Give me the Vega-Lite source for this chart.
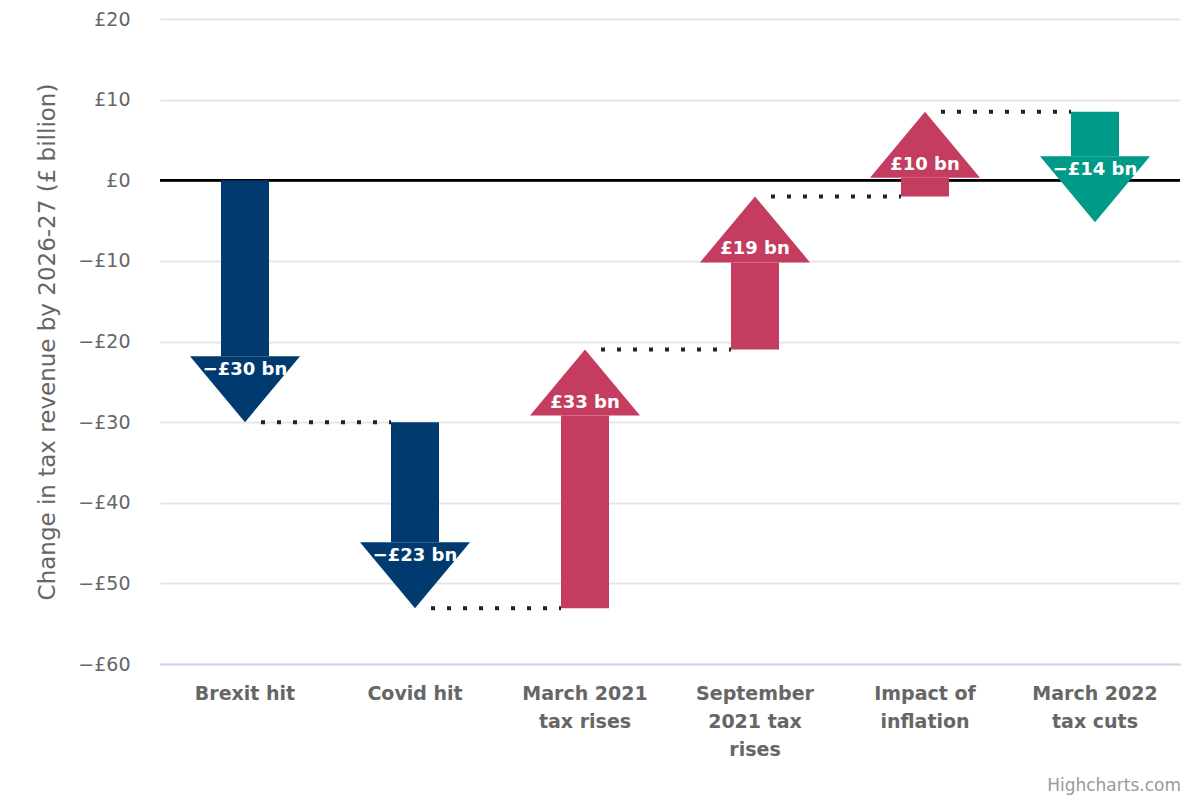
{
  "$schema": "https://vega.github.io/schema/vega-lite/v6.json",
  "width": 1020,
  "height": 645,
  "autosize": {"type": "none"},
  "padding": {"left": 160, "top": 19, "right": 20, "bottom": 136},
  "background": "white",
  "config": {
    "view": {"stroke": null},
    "font": "DejaVu Sans"
  },
  "title": {
    "text": "Highcharts.com",
    "orient": "bottom",
    "anchor": "end",
    "fontSize": 17,
    "fontWeight": "normal",
    "color": "#999999",
    "font": "DejaVu Sans",
    "offset": 19
  },
  "data": {
    "values": [
      {"cat": "Brexit hit", "start": 0, "end": -30, "label": "−£30 bn", "kind": "hit", "dir": "down", "next": "Covid hit"},
      {"cat": "Covid hit", "start": -30, "end": -53.1, "label": "−£23 bn", "kind": "hit", "dir": "down", "next": "March 2021 tax rises"},
      {"cat": "March 2021 tax rises", "start": -53.1, "end": -21, "label": "£33 bn", "kind": "rise", "dir": "up", "next": "September 2021 tax rises"},
      {"cat": "September 2021 tax rises", "start": -21, "end": -2, "label": "£19 bn", "kind": "rise", "dir": "up", "next": "Impact of inflation"},
      {"cat": "Impact of inflation", "start": -2, "end": 8.5, "label": "£10 bn", "kind": "rise", "dir": "up", "next": "March 2022 tax cuts"},
      {"cat": "March 2022 tax cuts", "start": 8.5, "end": -5.2, "label": "−£14 bn", "kind": "cut", "dir": "down", "next": null}
    ]
  },
  "encoding": {
    "x": {
      "field": "cat",
      "type": "nominal",
      "sort": null,
      "scale": {
        "domain": ["Brexit hit", "Covid hit", "March 2021 tax rises", "September 2021 tax rises", "Impact of inflation", "March 2022 tax cuts"],
        "paddingInner": 0,
        "paddingOuter": 0
      },
      "axis": {
        "title": null,
        "labelAngle": 0,
        "ticks": false,
        "domainColor": "#ccd6eb",
        "domainWidth": 2,
        "labelFontSize": 19,
        "labelFontWeight": "bold",
        "labelColor": "#666666",
        "labelLineHeight": 28,
        "labelPadding": 20,
        "labelLimit": 0,
        "labelExpr": "datum.value == 'March 2021 tax rises' ? ['March 2021','tax rises'] : datum.value == 'September 2021 tax rises' ? ['September','2021 tax','rises'] : datum.value == 'Impact of inflation' ? ['Impact of','inflation'] : datum.value == 'March 2022 tax cuts' ? ['March 2022','tax cuts'] : datum.label"
      }
    }
  },
  "layer": [
    {
      "mark": {"type": "rule", "color": "#000000", "strokeWidth": 2},
      "encoding": {
        "x": null,
        "y": {
          "datum": 0,
          "type": "quantitative",
          "scale": {"domain": [-60, 20], "nice": false, "zero": false},
          "axis": {
            "title": "Change in tax revenue by 2026-27 (£ billion)",
            "titleFontSize": 23,
            "titleFontWeight": "normal",
            "titleColor": "#666666",
            "titlePadding": 18,
            "values": [-60, -50, -40, -30, -20, -10, 0, 10, 20],
            "labelExpr": "datum.value < 0 ? '−£' + abs(datum.value) : '£' + datum.value",
            "labelFontSize": 19,
            "labelColor": "#666666",
            "labelPadding": 30,
            "ticks": false,
            "domain": false,
            "grid": true,
            "gridColor": "#e6e6e6",
            "gridWidth": 2
          }
        }
      }
    },
    {
      "transform": [{"filter": "datum.next != null"}],
      "mark": {"type": "rule", "color": "#222222", "strokeWidth": 4, "strokeDash": [4, 12], "xOffset": 16, "x2Offset": -24},
      "encoding": {
        "x": {"field": "cat", "type": "nominal", "bandPosition": 0.5},
        "x2": {"field": "next"},
        "y": {"field": "end", "type": "quantitative"}
      }
    },
    {
      "transform": [{"filter": "datum.dir == 'down'"}],
      "mark": {"type": "bar", "width": 48, "y2Offset": -66},
      "encoding": {
        "y": {"field": "start", "type": "quantitative"},
        "y2": {"field": "end"},
        "color": {"field": "kind", "type": "nominal", "scale": {"domain": ["hit", "rise", "cut"], "range": ["#003a6e", "#c43c5f", "#009a88"]}, "legend": null}
      }
    },
    {
      "transform": [{"filter": "datum.dir == 'up'"}],
      "mark": {"type": "bar", "width": 48, "y2Offset": 66},
      "encoding": {
        "y": {"field": "start", "type": "quantitative"},
        "y2": {"field": "end"},
        "color": {"field": "kind", "type": "nominal", "legend": null}
      }
    },
    {
      "transform": [{"filter": "datum.dir == 'down'"}],
      "mark": {"type": "point", "filled": true, "opacity": 1, "strokeWidth": 0, "shape": "M -1 -1.2 L 1 -1.2 L 0 0 Z", "size": 12100},
      "encoding": {
        "y": {"field": "end", "type": "quantitative"},
        "color": {"field": "kind", "type": "nominal", "legend": null}
      }
    },
    {
      "transform": [{"filter": "datum.dir == 'up'"}],
      "mark": {"type": "point", "filled": true, "opacity": 1, "strokeWidth": 0, "shape": "M -1 1.2 L 1 1.2 L 0 0 Z", "size": 12100},
      "encoding": {
        "y": {"field": "end", "type": "quantitative"},
        "color": {"field": "kind", "type": "nominal", "legend": null}
      }
    },
    {
      "transform": [{"filter": "datum.dir == 'down'"}],
      "mark": {"type": "text", "color": "white", "fontWeight": "bold", "fontSize": 18, "dy": -52, "baseline": "middle", "align": "center"},
      "encoding": {
        "y": {"field": "end", "type": "quantitative"},
        "text": {"field": "label"}
      }
    },
    {
      "transform": [{"filter": "datum.dir == 'up'"}],
      "mark": {"type": "text", "color": "white", "fontWeight": "bold", "fontSize": 18, "dy": 53, "baseline": "middle", "align": "center"},
      "encoding": {
        "y": {"field": "end", "type": "quantitative"},
        "text": {"field": "label"}
      }
    }
  ]
}
